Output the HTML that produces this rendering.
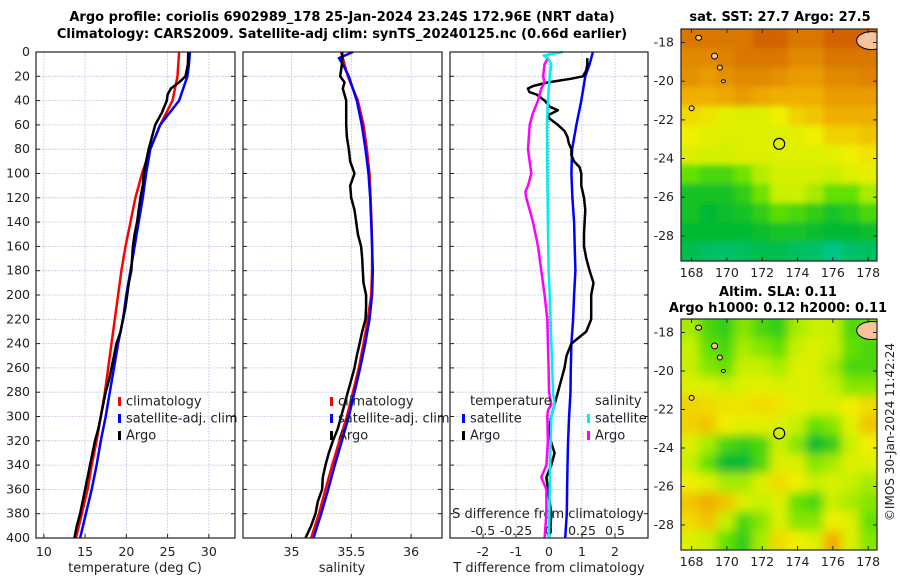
<!DOCTYPE html>
<html><head><meta charset="utf-8">
<style>
body{margin:0;background:#fff;}
svg{display:block;font-family:"DejaVu Sans","Liberation Sans",sans-serif;}
</style></head>
<body>
<svg id="fig" width="900" height="580" viewBox="0 0 900 580">
<defs>
<filter id="sm" x="-10%" y="-10%" width="120%" height="120%" filterUnits="objectBoundingBox"><feGaussianBlur stdDeviation="5"/></filter>
<filter id="sm2" x="-10%" y="-10%" width="120%" height="120%" filterUnits="objectBoundingBox"><feGaussianBlur stdDeviation="3"/></filter>
<clipPath id="c1"><rect x="681" y="29" width="196" height="232"/></clipPath>
<clipPath id="c2"><rect x="681" y="319" width="196" height="231"/></clipPath>
</defs>
<text x="342" y="21" text-anchor="middle" font-size="13" font-weight="bold">Argo profile: coriolis 6902989_178 25-Jan-2024 23.24S 172.96E (NRT data)</text>
<text x="342" y="38" text-anchor="middle" font-size="13" font-weight="bold">Climatology: CARS2009. Satellite-adj clim: synTS_20240125.nc (0.66d earlier)</text>
<text x="780" y="21" text-anchor="middle" font-size="13" font-weight="bold">sat. SST: 27.7 Argo: 27.5</text>
<text x="778" y="296" text-anchor="middle" font-size="13" font-weight="bold">Altim. SLA: 0.11</text>
<text x="778" y="312" text-anchor="middle" font-size="13" font-weight="bold">Argo h1000: 0.12 h2000: 0.11</text>
<text transform="translate(894,432) rotate(-90)" text-anchor="middle" font-size="12" fill="#222">©IMOS 30-Jan-2024 11:42:24</text>
<g id="g"></g>
</svg>
<script>
// ---------- data ----------
const depthTicks=[0,20,40,60,80,100,120,140,160,180,200,220,240,260,280,300,320,340,360,380,400];
const climDepth=[0,10,20,40,60,80,100,120,140,160,180,200,220,240,260,280,300,320,340,360,380,400];
const climT=[26.4,26.3,26.2,25.6,24.1,22.9,21.9,21.1,20.5,19.9,19.4,19.0,18.6,18.2,17.8,17.4,16.9,16.4,15.8,15.3,14.6,13.9];
const satT=[27.7,27.6,27.4,26.4,24.1,22.9,22.4,22.0,21.5,21.0,20.5,20.0,19.6,19.0,18.5,18.0,17.5,16.9,16.4,15.8,15.1,14.4];
const argoTDepth=[0,10,20,25,30,35,40,50,60,70,80,90,100,110,120,130,140,150,160,170,180,190,200,210,220,230,240,250,260,270,280,290,300,310,320,330,340,350,360,370,380,390,400];
const argoT=[27.5,27.46,27.17,26.4,25.4,25.0,24.9,24.3,23.5,23.1,22.7,22.4,22.1,22.0,21.7,21.5,21.3,21.0,20.8,20.7,20.6,20.3,20.1,19.9,19.6,19.3,18.8,18.5,18.2,17.9,17.5,17.2,16.9,16.6,16.2,15.9,15.6,15.3,15.0,14.7,14.4,14.0,13.7];
const climS=[35.415,35.443,35.471,35.555,35.602,35.630,35.652,35.661,35.669,35.674,35.674,35.666,35.638,35.602,35.563,35.513,35.463,35.401,35.340,35.284,35.229,35.164];
const satSDepth=[0,5,10,20,40,60,80,100,120,140,160,180,200,220,240,260,280,300,320,340,360,380,400];
const satS=[35.513,35.396,35.429,35.479,35.546,35.588,35.619,35.644,35.658,35.666,35.674,35.680,35.674,35.652,35.616,35.574,35.527,35.479,35.421,35.362,35.307,35.248,35.184];
const argoSDepth=[0,5,10,20,25,30,40,50,60,70,80,90,100,110,120,130,140,150,160,170,180,190,200,210,220,230,240,250,260,270,280,290,300,310,320,330,340,350,360,370,380,390,400];
const argoS=[35.424,35.424,35.421,35.407,35.443,35.429,35.457,35.457,35.457,35.463,35.479,35.491,35.527,35.491,35.499,35.527,35.541,35.555,35.582,35.591,35.596,35.602,35.624,35.624,35.619,35.591,35.569,35.546,35.527,35.499,35.471,35.443,35.415,35.387,35.346,35.312,35.284,35.262,35.256,35.220,35.201,35.164,35.117];
const dTDepth=[0,10,20,40,60,80,100,120,140,160,180,200,220,240,260,280,300,320,340,360,380,400];
const satDT=[1.33,1.23,1.10,0.98,0.83,0.70,0.68,0.71,0.76,0.78,0.80,0.76,0.73,0.68,0.66,0.65,0.61,0.58,0.56,0.55,0.54,0.49];
const argoDTDepth=[5,10,15,20,22,25,28,30,33,35,40,45,48,52,55,60,65,70,75,80,85,90,95,100,110,120,130,140,150,160,170,180,190,200,210,220,230,240,250,260,270,280,290,300,310,320,330,340,350,360,370,380,390,400];
const argoDT=[1.16,1.16,1.13,1.03,0.68,-0.03,-0.48,-0.64,-0.59,-0.38,-0.13,0.02,0.27,-0.03,0.02,0.27,0.47,0.56,0.60,0.68,0.68,0.76,0.93,0.98,0.98,1.06,1.10,1.08,1.06,1.06,1.13,1.23,1.35,1.28,1.28,1.28,1.13,0.68,0.53,0.47,0.37,0.27,0.17,0.07,0.02,0.05,0.17,0.07,-0.08,-0.03,0.02,0.07,0.05,-0.01];
const satDSDepth=[0,3,5,10,20,40,60,100,140,180,200,240,280,290,300,320,340,360,380,400];
const satDS=[0.106,-0.040,-0.008,0.018,0.005,-0.008,-0.015,-0.013,-0.008,-0.003,0.005,0.018,0.030,0.043,0.018,0.013,0.008,0.005,0.003,0.000];
const argoDSDepth=[5,10,20,25,30,40,50,60,80,100,110,115,120,140,160,180,200,220,240,260,280,290,295,300,320,340,350,360,380,400];
const argoDS=[-0.008,-0.033,-0.045,-0.033,-0.058,-0.083,-0.121,-0.146,-0.159,-0.134,-0.159,-0.179,-0.172,-0.121,-0.083,-0.058,-0.033,-0.013,-0.008,-0.003,0.000,0.018,-0.008,-0.013,-0.008,-0.020,-0.058,-0.020,-0.020,-0.033];
const tTicks=[10,15,20,25,30];
const sTicks=[35,35.5,36];
const dtTicks=[-2,-1,0,1,2];
const dsTicks=[-0.5,-0.25,0,0.25,0.5];
const lonTicks=[168,170,172,174,176,178];
const latTicks=[-18,-20,-22,-24,-26,-28];
const sstGrid=[
[.95,.95,.95,.95,1,1,.95,.95,1,1,1],
[.9,.9,.92,.95,.95,.95,.9,.9,.95,.95,.95],
[.88,.85,.88,.9,.9,.88,.85,.85,.9,.9,.92],
[.8,.8,.82,.85,.82,.8,.8,.8,.85,.85,.85],
[.7,.68,.62,.6,.6,.65,.72,.75,.8,.8,.8],
[.65,.62,.6,.6,.6,.6,.62,.65,.72,.72,.75],
[.6,.58,.58,.6,.6,.6,.6,.6,.62,.65,.68],
[.4,.35,.35,.42,.52,.58,.58,.58,.55,.6,.62],
[.25,.25,.25,.3,.42,.55,.56,.5,.4,.4,.5],
[.25,.2,.22,.25,.3,.38,.35,.3,.25,.28,.35],
[.2,.2,.2,.2,.22,.25,.25,.22,.2,.2,.22],
[.15,.12,.1,.12,.15,.15,.12,.1,.05,.1,.12]];
const slaGrid=[
[.5,.35,.3,.45,.35,.3,.5,.55,.55,.35,.4],
[.55,.4,.35,.5,.45,.4,.55,.6,.55,.4,.35],
[.55,.45,.4,.55,.55,.5,.6,.6,.5,.35,.35],
[.6,.6,.55,.6,.62,.6,.6,.6,.55,.45,.45],
[.72,.7,.68,.68,.7,.68,.62,.6,.6,.65,.7],
[.72,.75,.65,.62,.62,.6,.55,.4,.45,.62,.75],
[.6,.5,.35,.3,.35,.55,.45,.2,.3,.55,.65],
[.55,.4,.2,.2,.35,.6,.6,.45,.5,.6,.6],
[.65,.6,.5,.5,.6,.7,.65,.55,.6,.55,.5],
[.75,.8,.75,.6,.55,.6,.4,.35,.55,.5,.45],
[.7,.75,.55,.35,.45,.6,.45,.45,.65,.6,.4],
[.6,.55,.4,.3,.5,.7,.65,.6,.8,.6,.45]];
const argoLon=172.96, argoLat=-23.24;

// ---------- helpers ----------
const NS="http://www.w3.org/2000/svg";
const G=document.getElementById('g');
function mk(tag,attrs,parent){const e=document.createElementNS(NS,tag);for(const k in attrs)e.setAttribute(k,attrs[k]);(parent||G).appendChild(e);return e;}
const yD=p=>52+1.215*p;
const PANELS=[{x0:36,x1:235,v0:9.05,v1:33.17},{x0:243,x1:442,v0:34.5945,v1:36.2583},{x0:450,x1:648,v0:-3.0,v1:3.0}];
function sx(i,v){const P=PANELS[i];return P.x0+(v-P.v0)/(P.v1-P.v0)*(P.x1-P.x0);}
function line(i,depths,vals,color,name,w,scale){
  const pts=depths.map((d,k)=>sx(i,vals[k]*(scale||1)).toFixed(1)+','+yD(d).toFixed(1)).join(' ');
  const e=mk('polyline',{points:pts,fill:'none',stroke:color,'stroke-width':w||2.5,'stroke-linejoin':'round'});
  
  
}
function txt(x,y,s,opts,name){const e=mk('text',Object.assign({x:x,y:y,'font-size':12,fill:'#222'},opts||{}));e.textContent=s;
  
  return e;}

// ---------- profile panels ----------
const names=['temperature-panel','salinity-panel','difference-panel'];
const xt=[tTicks,sTicks,dtTicks];
PANELS.forEach((P,i)=>{
  const g=mk('g',{});
  
  
  depthTicks.forEach(d=>{
    const l=mk('line',{x1:P.x0,x2:P.x1,y1:yD(d),y2:yD(d),stroke:'#c4cbe8','stroke-width':0.8,'stroke-dasharray':'2,1'},g);
    
    
    mk('line',{x1:P.x0,x2:P.x0+4,y1:yD(d),y2:yD(d),stroke:'#222'},g);
    mk('line',{x1:P.x1-4,x2:P.x1,y1:yD(d),y2:yD(d),stroke:'#222'},g);
  });
  xt[i].forEach(v=>{
    const x=sx(i,v);
    const l=mk('line',{x1:x,x2:x,y1:52,y2:538,stroke:'#c4cbe8','stroke-width':0.8,'stroke-dasharray':'2,1'},g);
    
    
    mk('line',{x1:x,x2:x,y1:538,y2:534,stroke:'#222'},g);
    txt(x,556,String(v),{'text-anchor':'middle','font-size':12.5},'x-tick-label');
  });
});
depthTicks.forEach(d=>txt(30,yD(d)+4,String(d),{'text-anchor':'end','font-size':12.5},'depth-tick-label'));
txt(135,572,'temperature (deg C)',{'text-anchor':'middle','font-size':13},'x-axis-title-temperature');
txt(342,572,'salinity',{'text-anchor':'middle','font-size':13},'x-axis-title-salinity');
txt(549,572,'T difference from climatology',{'text-anchor':'middle','font-size':13},'x-axis-title-t-diff');
dsTicks.forEach(v=>txt(sx(2,v*4),535,String(v),{'text-anchor':'middle','font-size':12.5},'s-diff-tick-label'));
txt(548,518,'S difference from climatology',{'text-anchor':'middle','font-size':13},'s-diff-axis-title');
const z=mk('line',{x1:sx(2,0),x2:sx(2,0),y1:yD(0),y2:538,stroke:'#888','stroke-width':1,'stroke-dasharray':'1,2'});



line(0,climDepth,climT,'#f00','temp-climatology-line');
line(0,climDepth,satT,'#00f','temp-satellite-adj-line');
line(0,argoTDepth,argoT,'#000','temp-argo-line');
line(1,climDepth,climS,'#f00','sal-climatology-line');
line(1,satSDepth,satS,'#00f','sal-satellite-adj-line');
line(1,argoSDepth,argoS,'#000','sal-argo-line');
line(2,dTDepth,satDT,'#00f','t-diff-satellite-line');
line(2,argoDTDepth,argoDT,'#000','t-diff-argo-line');
line(2,argoDSDepth,argoDS,'#f0f','s-diff-argo-line',2.5,4);
line(2,satDSDepth,satDS,'#0ee','s-diff-satellite-line',2.5,4);

function leg(x,y,color,label,name){
  const m=mk('rect',{x:x,y:y-7,width:3,height:9,fill:color});
  
  
  txt(x+8,y+1.5,label,{'font-size':13},name);
}
[[118,'climatology','#f00'],[118,'satellite-adj. clim','#00f'],[118,'Argo','#000']].forEach((l,k)=>leg(l[0],404+k*17,l[2],l[1],'legend-temp-'+k));
[[330,'climatology','#f00'],[330,'satellite-adj. clim','#00f'],[330,'Argo','#000']].forEach((l,k)=>leg(l[0],404+k*17,l[2],l[1],'legend-sal-'+k));
txt(470,405,'temperature',{'font-size':13},'legend-temperature-header');
txt(595,405,'salinity',{'font-size':13},'legend-salinity-header');
leg(462,421,'#00f','satellite','legend-dt-satellite');
leg(462,438,'#000','Argo','legend-dt-argo');
leg(587,421,'#0ee','satellite','legend-ds-satellite');
leg(587,438,'#f0f','Argo','legend-ds-argo');
PANELS.forEach((P,i)=>{const r=mk('rect',{x:P.x0,y:52,width:P.x1-P.x0,height:486,fill:'none',stroke:'#222','stroke-width':1.2});
  
  });

// ---------- maps ----------
const stops=[[0,[0,200,160]],[0.2,[0,185,50]],[0.4,[100,225,0]],[0.55,[200,240,0]],[0.65,[240,240,0]],[0.8,[240,175,0]],[1,[210,100,0]]];
function cmap(v){for(let k=1;k<stops.length;k++){if(v<=stops[k][0]){const a=stops[k-1],b=stops[k],t=(v-a[0])/(b[0]-a[0]);
  return 'rgb('+a[1].map((c,j)=>Math.round(c+(b[1][j]-c)*t)).join(',')+')';}}return 'rgb(210,100,0)';}
function drawMap(top,bottom,grid,clip,name,filt){
  const lx=lon=>681+(lon-167.4)/11.1*196;
  const ly=lat=>top+(-17.3-lat)/12*(bottom-top);
  const g=mk('g',{'clip-path':'url(#'+clip+')'});
  
  
  const inner=mk('g',{filter:'url(#'+filt+')'},g);
  const cw=196/11,ch=(bottom-top)/12;
  grid.forEach((row,r)=>row.forEach((v,c)=>{
    const x0=c==0?660:681+c*cw, x1=c==10?900:681+(c+1)*cw+0.6;
    const y0=r==0?top-20:top+r*ch, y1=r==11?bottom+20:top+(r+1)*ch+0.6;
    const cell=mk('rect',{x:x0,y:y0,width:x1-x0,height:y1-y0,fill:cmap(v)},inner);
    
    
  }));
  const isl=[[178.2,-17.9,15,9],[168.4,-17.75,3,2.5],[169.3,-18.7,3,3],[169.6,-19.3,2.5,2.5],[169.8,-20.0,2,1.5],[168.0,-21.4,2.5,2.5]];
  isl.forEach(s=>{const e=mk('ellipse',{cx:lx(s[0]),cy:ly(s[1]),rx:s[2],ry:s[3],fill:'#f7c49a',stroke:'#000','stroke-width':1},g);
    
    });
  const c=mk('circle',{cx:lx(argoLon),cy:ly(argoLat),r:5.5,fill:'none',stroke:'#000','stroke-width':1.2},g);
  
  
  const fr=mk('rect',{x:681,y:top,width:196,height:bottom-top,fill:'none',stroke:'#222','stroke-width':1.2});
  
  
  lonTicks.forEach(l=>{const x=lx(l);mk('line',{x1:x,x2:x,y1:bottom,y2:bottom-4,stroke:'#222'});mk('line',{x1:x,x2:x,y1:top,y2:top+4,stroke:'#222'});
    txt(x,bottom+16,String(l),{'text-anchor':'middle','font-size':12.5},'lon-tick-label');});
  latTicks.forEach(l=>{const y=ly(l);mk('line',{x1:681,x2:685,y1:y,y2:y,stroke:'#222'});mk('line',{x1:873,x2:877,y1:y,y2:y,stroke:'#222'});
    txt(674,y+4,String(l),{'text-anchor':'end','font-size':12.5},'lat-tick-label');});
}
drawMap(29,261,sstGrid,'c1','sst-map','sm2');
drawMap(319,550,slaGrid,'c2','sla-map','sm');
</script>
</body></html>
